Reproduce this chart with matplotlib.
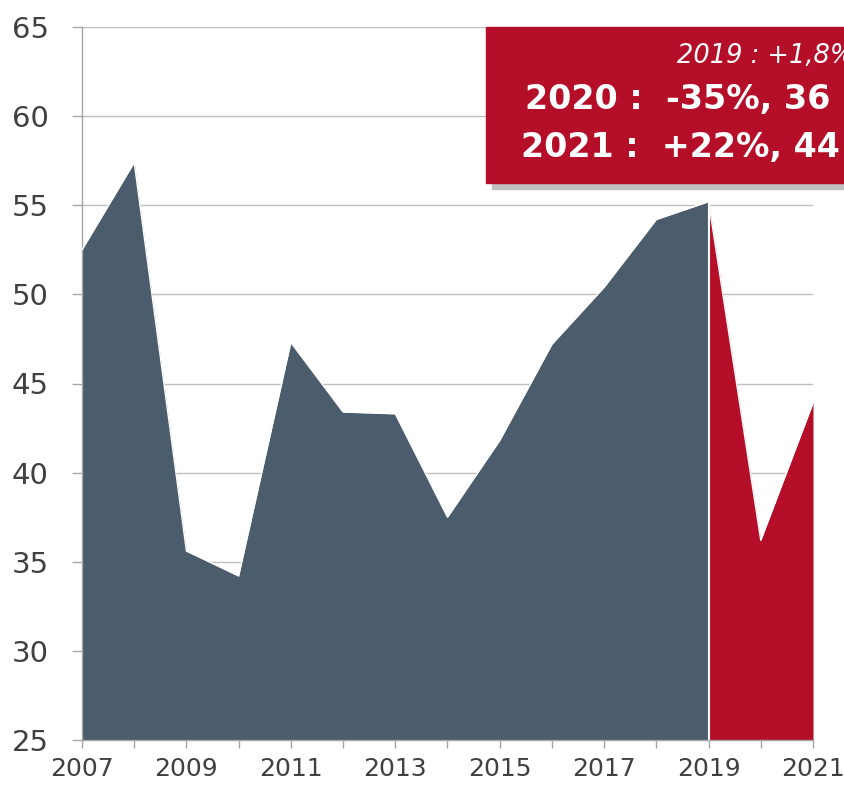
import numpy as np
import matplotlib
matplotlib.use('Agg')
import matplotlib.pyplot as plt
from matplotlib.patches import Rectangle

years_hist = [2007, 2008, 2009, 2010, 2011, 2012, 2013, 2014, 2015, 2016, 2017, 2018, 2019]
values_hist = [52.5, 57.4, 35.6, 34.2, 47.3, 43.4, 43.3, 37.5, 41.8, 47.2, 50.4, 54.2, 55.2]
years_proj = [2019, 2020, 2021]
values_proj = [55.2, 36.2, 43.9]
xtick_labels = ['2007', '2009', '2011', '2013', '2015', '2017', '2019', '2021']
yticks = [25, 30, 35, 40, 45, 50, 55, 60, 65]
box_lines = ['2019 : +1,8%', '2020 :  -35%, 36', '2021 :  +22%, 44']

slate = '#4b5c6d'
red = '#b50e28'
txt = '#404040'
grid_col = '#bfbfbf'

fig = plt.figure(figsize=(8.45, 7.88), dpi=100)
ax = fig.add_axes([82 / 845, 48 / 788, 731 / 845, 713 / 788])

ax.fill_between(years_hist, values_hist, 25, color=slate, lw=0, zorder=2)
ax.plot(years_hist, values_hist, color='white', lw=1, zorder=3)
ax.fill_between(years_proj, values_proj, 25, color=red, lw=0, zorder=2)
ax.plot(years_proj, values_proj, color='white', lw=1, zorder=3)
ax.plot([2019, 2019], [25, values_hist[-1]], color='white', lw=1.5, zorder=3)

ax.set_xlim(2007, 2021)
ax.set_ylim(25, 65)
ax.set_yticks(yticks)
ax.set_xticks(range(2007, 2022))
ax.set_xticklabels([str(y) if str(y) in xtick_labels else '' for y in range(2007, 2022)])
ax.yaxis.grid(True, color=grid_col, lw=1, zorder=0)
ax.set_axisbelow(True)
for s in ['top', 'right']:
    ax.spines[s].set_visible(False)
for s in ['left', 'bottom']:
    ax.spines[s].set_color('#a6a6a6')
    ax.spines[s].set_linewidth(1)
ax.tick_params(axis='y', length=7, width=1, color='#a6a6a6', pad=17, labelcolor=txt, labelsize=21)
ax.tick_params(axis='x', length=6, width=1, color='#a6a6a6', pad=6, labelcolor=txt, labelsize=18)

# annotation box
W, H = 845, 788
fig.patches.append(Rectangle((492 / W, 1 - 189 / H), 400 / W, 156 / H, transform=fig.transFigure,
                             color='#bfbfbf', zorder=5))
fig.patches.append(Rectangle((486 / W, 1 - 183 / H), 400 / W, 156 / H, transform=fig.transFigure,
                             color=red, zorder=6))
fig.text(854 / W, 1 - 56 / H, box_lines[0], color='white', fontsize=18.5, style='italic',
         ha='right', va='center', zorder=7)
fig.text(678 / W, 1 - 99 / H, box_lines[1], color='white', fontsize=24, weight='bold',
         ha='center', va='center', zorder=7)
fig.text(680 / W, 1 - 148 / H, box_lines[2], color='white', fontsize=24, weight='bold',
         ha='center', va='center', zorder=7)

plt.savefig('out.png', dpi=100)
plt.close()
